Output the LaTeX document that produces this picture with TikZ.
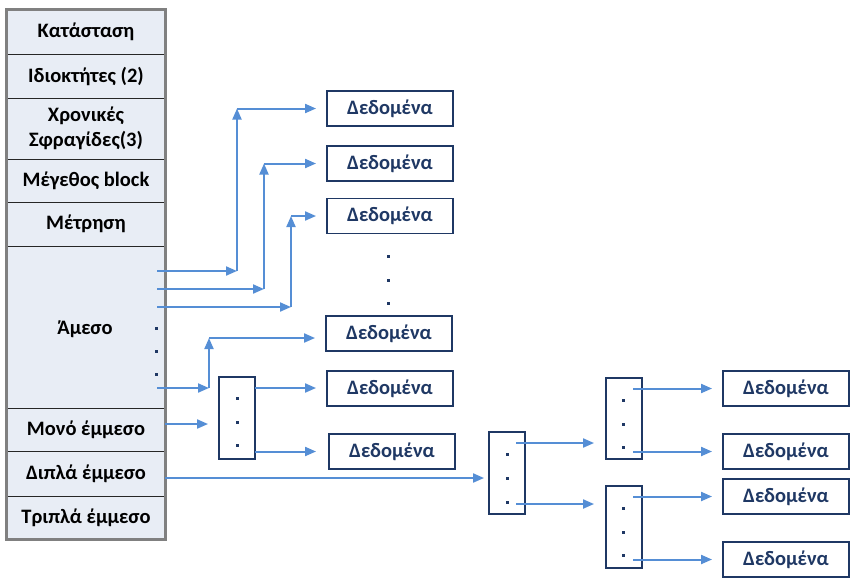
\documentclass[tikz,border=0pt]{standalone}
\usepackage{fontspec}
\setmainfont{Carlito}
\usetikzlibrary{arrows.meta}
\definecolor{arrowblue}{RGB}{85,142,213}
\definecolor{boxblue}{RGB}{31,56,100}
\definecolor{rowfill}{RGB}{232,237,245}
\definecolor{rowedge}{RGB}{128,128,128}
\tikzset{
  row/.style={draw=black!85, line width=0.9pt, fill=rowfill, minimum width=158pt, inner sep=0pt, font=\bfseries\fontsize{20.5}{25}\selectfont, align=center, text=black},
  databox/.style={draw=boxblue, line width=1.9pt, fill=white, minimum width=126pt, minimum height=35pt, inner sep=0pt, font=\bfseries\fontsize{20.5}{25}\selectfont, text=boxblue},
  ptrblock/.style={draw=boxblue, line width=1.9pt, fill=white, minimum width=36pt, inner sep=0pt},
  arr/.style={draw=arrowblue, line width=2pt, -{Triangle[length=11pt,width=9pt]}},
  gap/.style={shorten >=10pt},
  dotmark/.style={fill=boxblue, minimum size=3pt, inner sep=0pt, draw=none},
}
\begin{document}
\begin{tikzpicture}[x=1pt,y=-1pt]
\useasboundingbox (0,0) rectangle (855,582);
% table
\node[row, minimum height=44pt] (r1) at (86,32) {Κατάσταση};
\node[row, minimum height=44pt] (r2) at (86,76) {Ιδιοκτήτες (2)};
\node[row, minimum height=61pt] (r3) at (86,128.5) {Χρονικές\\Σφραγίδες(3)};
\node[row, minimum height=43pt] (r4) at (86,180.5) {Μέγεθος block};
\node[row, minimum height=44pt] (r5) at (86,224) {Μέτρηση};
\node[row, minimum height=162pt] (r6) at (86,327) {};
\node[font=\bfseries\fontsize{20.5}{25}\selectfont] (amt) at (85,329) {Άμεσο};
\node[row, minimum height=43pt] (r7) at (86,429.5) {Μονό έμμεσο};
\node[row, minimum height=45pt] (r8) at (86,473.5) {Διπλά έμμεσο};
\node[row, minimum height=43pt] (r9) at (86,517.5) {Τριπλά έμμεσο};
\draw[draw=rowedge, line width=2.2pt] (r1.north west) rectangle (r9.south east);
% dots in direct area
\foreach \yy [count=\i] in {328,351,374} \node[dotmark] (ad\i) at (156,\yy) {};
% data boxes
\node[databox] (d1) at (390,108.5) {Δεδομένα};
\node[databox] (d2) at (390,163.5) {Δεδομένα};
\node[databox] (d3) at (390,216) {Δεδομένα};
\node[databox] (d4) at (389,333.5) {Δεδομένα};
\node[databox] (d5) at (390,388.5) {Δεδομένα};
\node[databox] (d6) at (392,451.5) {Δεδομένα};
\node[databox] (d7) at (786,388.5) {Δεδομένα};
\node[databox] (d8) at (786,451.5) {Δεδομένα};
\node[databox] (d9) at (786,496.5) {Δεδομένα};
\node[databox] (d10) at (786,559.5) {Δεδομένα};
\foreach \yy [count=\i] in {256,280,303} \node[dotmark] (md\i) at (388,\yy) {};
% pointer blocks
\node[ptrblock, minimum height=82pt] (i1) at (237,418) {};
\node[ptrblock, minimum height=82pt] (dd) at (507,473) {};
\node[ptrblock, minimum height=81pt] (ta) at (624,418.5) {};
\node[ptrblock, minimum height=82pt] (tb) at (624,527) {};
\foreach \yy [count=\i] in {398,422,445} \node[dotmark] (i1d\i) at (237,\yy) {};
\foreach \yy [count=\i] in {454,478,502} \node[dotmark] (ddd\i) at (507,\yy) {};
\foreach \yy [count=\i] in {400,424,447} \node[dotmark] (tad\i) at (623,\yy) {};
\foreach \yy [count=\i] in {508,532,555} \node[dotmark] (tbd\i) at (623,\yy) {};
% coordinates
\coordinate (s1) at (157,271);
\coordinate (s2) at (157,289);
\coordinate (s3) at (157,307);
\coordinate (s4) at (157,388);
\coordinate (c1) at (237,271); \coordinate (u1) at (237,108.5);
\coordinate (c2) at (264,289); \coordinate (u2) at (264,163.5);
\coordinate (c3) at (291,307); \coordinate (u3) at (291,216);
\coordinate (c4) at (209,388); \coordinate (u4) at (209,338);
\coordinate (m1) at (165,424);
\coordinate (m2) at (165,478);
\coordinate (i1a) at (255,388); \coordinate (i1b) at (255,451.5);
\coordinate (dda) at (516,443); \coordinate (ddb) at (516,504);
\coordinate (taa) at (633,388.5); \coordinate (tab) at (633,451.5);
\coordinate (tba) at (633,496.5); \coordinate (tbb) at (633,559.5);
% arrows
\draw[arr] (s1) -- (c1); \draw[arr] (c1) -- (u1); \draw[arr,gap] (u1) -- (d1.west);
\draw[arr] (s2) -- (c2); \draw[arr] (c2) -- (u2); \draw[arr,gap] (u2) -- (d2.west);
\draw[arr] (s3) -- (c3); \draw[arr] (c3) -- (u3); \draw[arr,gap] (u3) -- (d3.west);
\draw[arr] (s4) -- (c4); \draw[arr] (c4) -- (u4); \draw[arr,gap] (u4) -- (u4 -| d4.west);
\draw[arr,gap] (m1) -- (m1 -| i1.west);
\draw[arr] (i1a) -- ([xshift=-10pt]i1a -| d5.west);
\draw[arr] (i1b) -- ([xshift=-12pt]i1b -| d6.west);
\draw[arr,shorten >=4pt] (m2) -- (m2 -| dd.west);
\draw[arr,shorten >=11pt] (dda) -- (dda -| ta.west);
\draw[arr,shorten >=11pt] (ddb) -- (ddb -| tb.west);
\draw[arr,gap] (taa) -- (d7.west);
\draw[arr,gap] (tab) -- (d8.west);
\draw[arr,gap] (tba) -- (d9.west);
\draw[arr,gap] (tbb) -- (d10.west);
\end{tikzpicture}
\end{document}
